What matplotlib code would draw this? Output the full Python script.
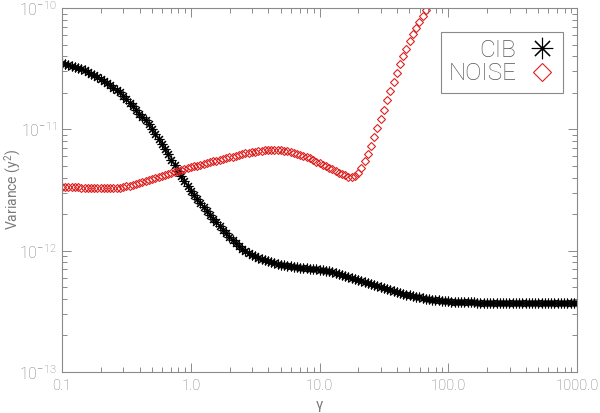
import numpy as np
import matplotlib
matplotlib.use("Agg")
import matplotlib.pyplot as plt
from matplotlib.ticker import FixedLocator, FixedFormatter, NullFormatter

# gamma grid (40 points per decade)
gamma = [
    0.1000, 0.1059, 0.1122, 0.1189, 0.1259, 0.1334, 0.1413, 0.1496, 0.1585, 0.1679,
    0.1778, 0.1884, 0.1995, 0.2113, 0.2239, 0.2371, 0.2512, 0.2661, 0.2818, 0.2985,
    0.3162, 0.3350, 0.3548, 0.3758, 0.3981, 0.4217, 0.4467, 0.4732, 0.5012, 0.5309,
    0.5623, 0.5957, 0.6310, 0.6683, 0.7079, 0.7499, 0.7943, 0.8414, 0.8913, 0.9441,
    1.000, 1.059, 1.122, 1.189, 1.259, 1.334, 1.413, 1.496, 1.585, 1.679,
    1.778, 1.884, 1.995, 2.113, 2.239, 2.371, 2.512, 2.661, 2.818, 2.985,
    3.162, 3.350, 3.548, 3.758, 3.981, 4.217, 4.467, 4.732, 5.012, 5.309,
    5.623, 5.957, 6.310, 6.683, 7.079, 7.499, 7.943, 8.414, 8.913, 9.441,
    10.00, 10.59, 11.22, 11.89, 12.59, 13.34, 14.13, 14.96, 15.85, 16.79,
    17.78, 18.84, 19.95, 21.13, 22.39, 23.71, 25.12, 26.61, 28.18, 29.85,
    31.62, 33.50, 35.48, 37.58, 39.81, 42.17, 44.67, 47.32, 50.12, 53.09,
    56.23, 59.57, 63.10, 66.83, 70.79, 74.99, 79.43, 84.14, 89.13, 94.41,
    100.0, 105.9, 112.2, 118.9, 125.9, 133.4, 141.3, 149.6, 158.5, 167.9,
    177.8, 188.4, 199.5, 211.3, 223.9, 237.1, 251.2, 266.1, 281.8, 298.5,
    316.2, 335.0, 354.8, 375.8, 398.1, 421.7, 446.7, 473.2, 501.2, 530.9,
    562.3, 595.7, 631.0, 668.3, 707.9, 749.9, 794.3, 841.4, 891.3, 944.1,
    1000.0,
]

cib = [
    3.53e-11, 3.46e-11, 3.40e-11, 3.33e-11, 3.27e-11, 3.21e-11, 3.14e-11, 3.06e-11, 2.97e-11, 2.88e-11,
    2.79e-11, 2.70e-11, 2.60e-11, 2.51e-11, 2.41e-11, 2.30e-11, 2.20e-11, 2.10e-11, 2.02e-11, 1.89e-11,
    1.77e-11, 1.65e-11, 1.55e-11, 1.45e-11, 1.35e-11, 1.27e-11, 1.19e-11, 1.10e-11, 1.01e-11, 9.18e-12,
    8.35e-12, 7.60e-12, 6.91e-12, 6.23e-12, 5.61e-12, 5.06e-12, 4.55e-12, 4.10e-12, 3.73e-12, 3.40e-12,
    3.12e-12, 2.86e-12, 2.65e-12, 2.46e-12, 2.29e-12, 2.13e-12, 1.98e-12, 1.83e-12, 1.72e-12, 1.60e-12,
    1.49e-12, 1.39e-12, 1.30e-12, 1.22e-12, 1.15e-12, 1.09e-12, 1.04e-12, 9.96e-13, 9.57e-13, 9.24e-13,
    9.01e-13, 8.76e-13, 8.53e-13, 8.34e-13, 8.15e-13, 8.00e-13, 7.85e-13, 7.73e-13, 7.64e-13, 7.55e-13,
    7.48e-13, 7.43e-13, 7.37e-13, 7.31e-13, 7.26e-13, 7.20e-13, 7.15e-13, 7.10e-13, 7.04e-13, 7.00e-13,
    6.95e-13, 6.90e-13, 6.83e-13, 6.76e-13, 6.65e-13, 6.54e-13, 6.42e-13, 6.29e-13, 6.16e-13, 6.09e-13,
    5.97e-13, 5.86e-13, 5.76e-13, 5.65e-13, 5.55e-13, 5.44e-13, 5.34e-13, 5.24e-13, 5.13e-13, 5.05e-13,
    4.96e-13, 4.87e-13, 4.78e-13, 4.69e-13, 4.60e-13, 4.51e-13, 4.43e-13, 4.35e-13, 4.29e-13, 4.23e-13,
    4.17e-13, 4.12e-13, 4.07e-13, 4.03e-13, 3.99e-13, 3.95e-13, 3.92e-13, 3.89e-13, 3.86e-13, 3.84e-13,
    3.82e-13, 3.80e-13, 3.79e-13, 3.78e-13, 3.77e-13, 3.76e-13, 3.75e-13, 3.75e-13, 3.74e-13, 3.73e-13,
    3.73e-13, 3.73e-13, 3.73e-13, 3.73e-13, 3.73e-13, 3.73e-13, 3.72e-13, 3.72e-13, 3.72e-13, 3.72e-13,
    3.72e-13, 3.72e-13, 3.72e-13, 3.72e-13, 3.72e-13, 3.72e-13, 3.72e-13, 3.72e-13, 3.72e-13, 3.72e-13,
    3.72e-13, 3.72e-13, 3.72e-13, 3.72e-13, 3.72e-13, 3.72e-13, 3.72e-13, 3.72e-13, 3.72e-13, 3.72e-13,
    3.72e-13,
]

noise = [
    3.34e-12, 3.34e-12, 3.33e-12, 3.33e-12, 3.32e-12, 3.32e-12, 3.31e-12, 3.31e-12, 3.30e-12, 3.29e-12,
    3.29e-12, 3.28e-12, 3.28e-12, 3.27e-12, 3.27e-12, 3.27e-12, 3.28e-12, 3.29e-12, 3.31e-12, 3.34e-12,
    3.39e-12, 3.43e-12, 3.49e-12, 3.54e-12, 3.60e-12, 3.66e-12, 3.73e-12, 3.80e-12, 3.87e-12, 3.94e-12,
    4.02e-12, 4.10e-12, 4.17e-12, 4.25e-12, 4.33e-12, 4.42e-12, 4.50e-12, 4.59e-12, 4.68e-12, 4.77e-12,
    4.86e-12, 4.94e-12, 5.03e-12, 5.11e-12, 5.20e-12, 5.29e-12, 5.37e-12, 5.45e-12, 5.53e-12, 5.62e-12,
    5.71e-12, 5.79e-12, 5.88e-12, 5.97e-12, 6.06e-12, 6.15e-12, 6.25e-12, 6.33e-12, 6.42e-12, 6.49e-12,
    6.55e-12, 6.61e-12, 6.66e-12, 6.70e-12, 6.73e-12, 6.74e-12, 6.74e-12, 6.73e-12, 6.70e-12, 6.66e-12,
    6.60e-12, 6.53e-12, 6.43e-12, 6.32e-12, 6.19e-12, 6.05e-12, 5.90e-12, 5.75e-12, 5.59e-12, 5.43e-12,
    5.27e-12, 5.11e-12, 4.96e-12, 4.81e-12, 4.67e-12, 4.53e-12, 4.40e-12, 4.28e-12, 4.17e-12, 4.08e-12,
    4.05e-12, 4.13e-12, 4.37e-12, 4.82e-12, 5.45e-12, 6.28e-12, 7.31e-12, 8.59e-12, 1.02e-11, 1.21e-11,
    1.45e-11, 1.73e-11, 2.07e-11, 2.46e-11, 2.92e-11, 3.43e-11, 3.99e-11, 4.62e-11, 5.35e-11, 6.07e-11,
    6.87e-11, 7.72e-11, 8.67e-11, 9.68e-11, 1.08e-10, 1.20e-10,
]

xticks = [0.1, 1.0, 10.0, 100.0, 1000.0]
xticklabels = ["0.1", "1.0", "10.0", "100.0", "1000.0"]
yticks = [1e-13, 1e-12, 1e-11, 1e-10]
yticklabels = ["10$^{-13}$", "10$^{-12}$", "10$^{-11}$", "10$^{-10}$"]

GREY = "#8a8a8a"
TXT = "#7a7a7a"
plt.rcParams["font.family"] = ["Roboto", "DejaVu Sans"]
plt.rcParams["font.weight"] = "light"
plt.rcParams["mathtext.fontset"] = "custom"
plt.rcParams["mathtext.rm"] = "Roboto:light"
plt.rcParams["mathtext.it"] = "Roboto:italic:light"
plt.rcParams["mathtext.default"] = "regular"

fig = plt.figure(figsize=(6.0, 4.13), dpi=100)
ax = fig.add_axes([0.1033, 0.0993, 0.8584, 0.8813])

ax.plot(gamma, cib, ls="none", marker=(8, 2, 0), ms=7, mew=0.8,
        color="black", label="CIB")
ax.plot(gamma[:len(noise)], noise, ls="none", marker="D", ms=4.3, mew=0.8,
        mfc="none", mec="#dd2020", label="NOISE")

ax.set_xscale("log")
ax.set_yscale("log")
ax.set_xlim(0.1, 1000)
ax.set_ylim(1e-13, 1e-10)

ax.xaxis.set_major_locator(FixedLocator(xticks))
ax.xaxis.set_major_formatter(FixedFormatter(xticklabels))
ax.xaxis.set_minor_formatter(NullFormatter())
ax.yaxis.set_major_locator(FixedLocator(yticks))
ax.yaxis.set_major_formatter(FixedFormatter(yticklabels))
ax.yaxis.set_minor_formatter(NullFormatter())

for s in ax.spines.values():
    s.set_color(GREY)
    s.set_linewidth(0.8)
ax.tick_params(which="both", direction="in", top=True, right=True,
               colors=GREY, labelcolor=TXT, width=0.7)
ax.tick_params(which="major", length=6.5, pad=5)
ax.tick_params(axis="x", which="major", labelsize=10.5)
ax.tick_params(axis="y", which="major", pad=4, labelsize=11.5)
ax.tick_params(which="minor", length=3.5)

ax.set_xlabel("γ", color=TXT, fontsize=10.5, labelpad=4)
ax.set_ylabel("Variance (y$^2$)", color=TXT, fontsize=10)
ax.yaxis.set_label_coords(-0.076, 0.5)

leg = ax.legend(loc="upper right", bbox_to_anchor=(0.972, 0.935),
                borderaxespad=0, markerfirst=False, markerscale=2.2,
                numpoints=1, fancybox=False, framealpha=1,
                edgecolor=GREY, handlelength=1.1, handletextpad=0.5,
                labelspacing=0.02, borderpad=0.3,
                prop={"size": 17.5, "weight": "light"})
leg.get_frame().set_linewidth(0.8)
for t in leg.get_texts():
    t.set_color("#555555")
    t.set_ha("right")

fig.savefig("out.png", dpi=100)
